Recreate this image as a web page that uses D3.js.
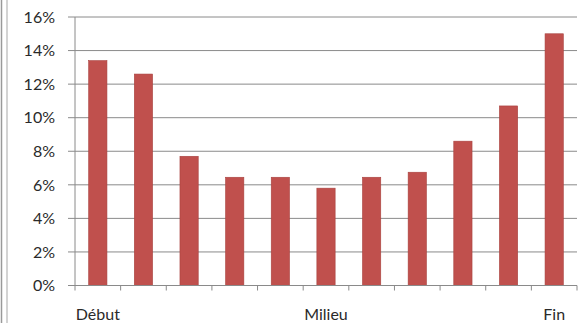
<!DOCTYPE html>
<html>
<head>
<meta charset="utf-8">
<script src="https://cdn.jsdelivr.net/npm/d3@7"></script>
<style>
  body { margin: 0; background: #fff; }
  svg { display: block; font-family: Lato, "Open Sans", sans-serif; }
</style>
</head>
<body>
<svg width="586" height="323"></svg>
<script>
// data
var categories = ["c1", "c2", "c3", "c4", "c5", "c6", "c7", "c8", "c9", "c10", "c11"];
var values = [13.4, 12.6, 7.7, 6.45, 6.45, 5.8, 6.45, 6.75, 8.6, 10.7, 15.0];
var labels = ["Début", "", "", "", "", "Milieu", "", "", "", "", "Fin"];
var yTicks = [0, 2, 4, 6, 8, 10, 12, 14, 16];

var data = categories.map(function (c, i) { return { cat: c, value: values[i], label: labels[i] }; });

var svg = d3.select("svg");
var plotL = 75, plotT = 17, plotR = 577, plotB = 285.5;

// frame lines on left edge
svg.append("line").attr("x1", 1.5).attr("x2", 1.5).attr("y1", 0).attr("y2", 323)
    .attr("stroke", "#9a9a9a").attr("stroke-width", 1.5);
svg.append("line").attr("x1", 7).attr("x2", 7).attr("y1", 0).attr("y2", 323)
    .attr("stroke", "#c4c4c4").attr("stroke-width", 1.5);

var x = d3.scaleBand().domain(categories).range([plotL, plotR]).paddingInner(0.6).paddingOuter(0.3);
var xb = d3.scaleBand().domain(categories).range([plotL, plotR]);
var y = d3.scaleLinear().domain([0, 16]).range([plotB, plotT]);

// gridlines
svg.append("g").selectAll("line")
    .data(yTicks)
    .enter().append("line")
    .attr("x1", plotL - 7).attr("x2", plotR)
    .attr("y1", function (d) { return y(d); })
    .attr("y2", function (d) { return y(d); })
    .attr("stroke", "#8a8a8a").attr("stroke-width", 1);

// y axis line
svg.append("line").attr("x1", plotL).attr("x2", plotL).attr("y1", plotT).attr("y2", plotB)
    .attr("stroke", "#8a8a8a");

// y labels
svg.append("g").selectAll("text")
    .data(yTicks)
    .enter().append("text")
    .attr("x", 55)
    .attr("y", function (d) { return y(d); })
    .attr("dy", "0.36em")
    .attr("text-anchor", "end")
    .attr("font-size", "16px")
    .attr("fill", "#2a2a2a")
    .text(function (d) { return d + "%"; });

// bars
svg.selectAll(".bar")
    .data(data)
    .enter().append("rect")
    .attr("class", "bar")
    .attr("x", function (d) { return x(d.cat); })
    .attr("y", function (d) { return y(d.value); })
    .attr("width", x.bandwidth())
    .attr("height", function (d) { return plotB - y(d.value); })
    .attr("fill", "#c0504d")
    .attr("stroke", "#a8413e")
    .attr("stroke-width", 0.6);

// x axis
var xAxis = svg.append("g")
    .attr("transform", "translate(0," + plotB + ")");
xAxis.append("line").attr("x1", plotL).attr("x2", plotR).attr("stroke", "#8a8a8a");
var bounds = categories.map(function (c) { return xb(c); }).concat([plotR]);
xAxis.selectAll(".tk")
    .data(bounds)
    .enter().append("line")
    .attr("class", "tk")
    .attr("x1", function (d) { return d; }).attr("x2", function (d) { return d; })
    .attr("y1", 0).attr("y2", 5)
    .attr("stroke", "#8a8a8a");
xAxis.selectAll(".lbl")
    .data(data)
    .enter().append("text")
    .attr("class", "lbl")
    .attr("x", function (d) { return xb(d.cat) + xb.bandwidth() / 2; })
    .attr("y", 34.5)
    .attr("text-anchor", "middle")
    .attr("font-size", "16px")
    .attr("fill", "#2a2a2a")
    .text(function (d) { return d.label; });
</script>
</body>
</html>
